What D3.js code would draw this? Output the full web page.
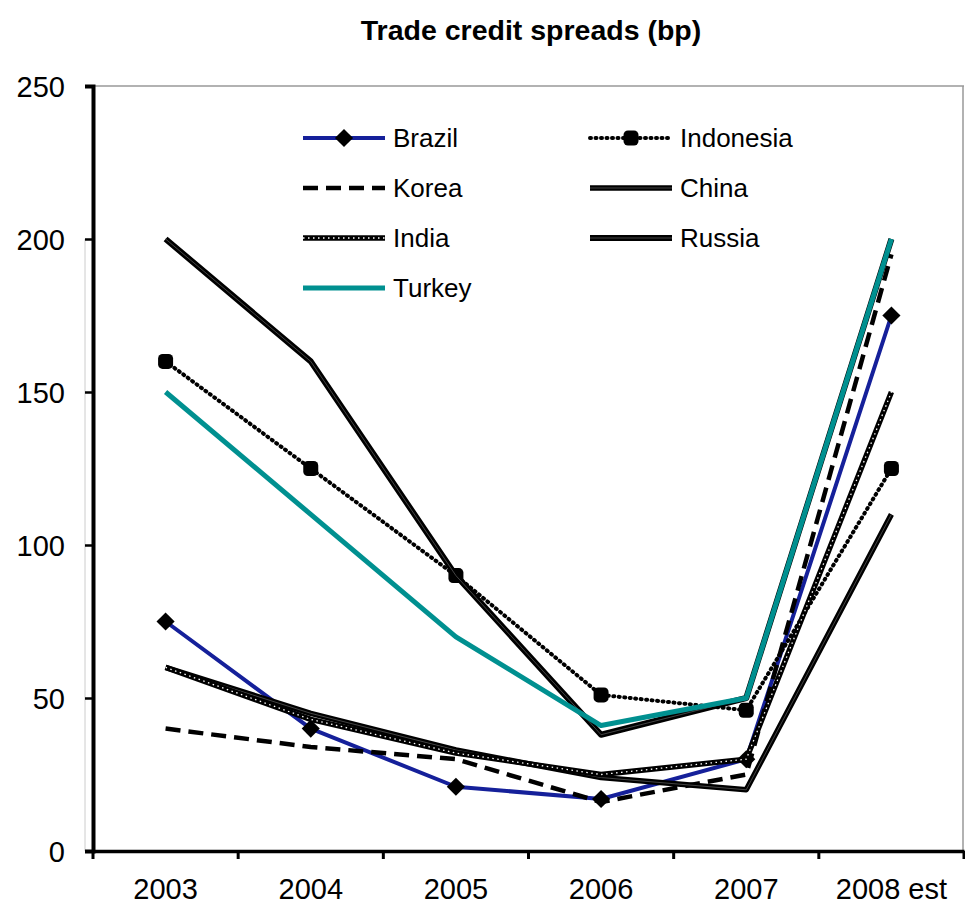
<!DOCTYPE html>
<html><head><meta charset="utf-8">
<script src="https://cdn.jsdelivr.net/npm/d3@7"></script>
<style>body{margin:0;background:#fff}svg{display:block}text{font-family:"Liberation Sans",Arial,sans-serif}</style>
</head><body>
<svg id="c" width="965" height="910"></svg>
<script>
const years = ["2003","2004","2005","2006","2007","2008 est"];
const brazil    = [75, 40, 21, 17, 30, 175];
const indonesia = [160, 125, 90, 51, 46, 125];
const korea     = [40, 34, 30, 16, 25, 195];
const china     = [60, 45, 33, 24, 20, 110];
const india     = [60, 43, 32, 25, 30, 150];
const russia    = [200, 160, 90, 38, 50, 200];
const turkey    = [150, 110, 70, 41, 50, 200];
const yTicks = [0, 50, 100, 150, 200, 250];
const seriesNames = ["Brazil","Indonesia","Korea","China","India","Russia","Turkey"];

const series = [
  {name:"Brazil", values:brazil},
  {name:"Indonesia", values:indonesia},
  {name:"Korea", values:korea},
  {name:"China", values:china},
  {name:"India", values:india},
  {name:"Russia", values:russia},
  {name:"Turkey", values:turkey}
];

const svg = d3.select("#c");
const L = 93, R = 964, T = 86, B = 851;
const x = d3.scaleBand().domain(years).range([L, R]).padding(0);
const y = d3.scaleLinear().domain([0, 250]).range([B, T]);
const cx = d => x(d) + x.bandwidth()/2;

// plot frame
svg.append("line").attr("x1",L).attr("x2",R).attr("y1",T).attr("y2",T).attr("stroke","#999").attr("stroke-width",1.5);
svg.append("line").attr("x1",R-1).attr("x2",R-1).attr("y1",T).attr("y2",B).attr("stroke","#999").attr("stroke-width",1.5);
svg.append("line").attr("x1",85).attr("x2",85).attr("y1",y(200)).attr("y2",B).attr("stroke","#ccc").attr("stroke-width",1);

// title
svg.append("text").attr("x",531).attr("y",40).attr("text-anchor","middle")
  .attr("font-size",28.5).attr("font-weight","bold").text("Trade credit spreads (bp)");

// axes
const yAxis = d3.axisLeft(y).tickValues(yTicks).tickSize(8).tickPadding(20);
const gy = svg.append("g").attr("transform",`translate(${L},0)`).call(yAxis);
gy.select(".domain").attr("stroke","#000").attr("stroke-width",4);
gy.selectAll(".tick line").attr("stroke","#000").attr("stroke-width",2.5);
gy.selectAll(".tick text").attr("font-size",29).attr("fill","#000").attr("font-family","Liberation Sans, Arial, sans-serif").attr("dy","0.35em");

const xAxis = d3.axisBottom(x).tickSize(0).tickPadding(27);
const gx = svg.append("g").attr("transform",`translate(0,${B})`).call(xAxis);
gx.select(".domain").attr("stroke","#000").attr("stroke-width",3.5);
gx.selectAll(".tick text").attr("font-size",29).attr("fill","#000").attr("font-family","Liberation Sans, Arial, sans-serif");
// band boundary ticks
const bounds = years.map(d => x(d)).concat([R]);
svg.append("g").selectAll("line").data(bounds).join("line")
  .attr("x1",d=>d).attr("x2",d=>d).attr("y1",B).attr("y2",B+8)
  .attr("stroke","#000").attr("stroke-width",3);

const line = d3.line().x((d,i)=>cx(years[i])).y(d=>y(d));

function drawStyle(g, name, path){
  const p = (attrs) => { const e = g.append("path").attr("d", path).attr("fill","none").attr("stroke-linejoin","round"); for (const k in attrs) e.attr(k, attrs[k]); return e; };
  if (name==="Brazil") { p({stroke:"#15209a","stroke-width":4}); }
  else if (name==="Indonesia") { p({stroke:"#000","stroke-width":4,"stroke-dasharray":"1,4.5","stroke-linecap":"round"}); }
  else if (name==="Korea") { p({stroke:"#000","stroke-width":4.5,"stroke-dasharray":"15,8"}); }
  else if (name==="China") { p({stroke:"#000","stroke-width":5.5}); p({stroke:"#555","stroke-width":0.8}); }
  else if (name==="India") { p({stroke:"#000","stroke-width":5.5}); p({stroke:"#fff","stroke-width":1.3,"stroke-dasharray":"1.5,3.5"}); }
  else if (name==="Russia") { p({stroke:"#000","stroke-width":6}); p({stroke:"#555","stroke-width":0.8}); }
  else if (name==="Turkey") { p({stroke:"#009090","stroke-width":5}); }
}
function drawMarker(g, name, mx, my){
  if (name==="Brazil") {
    g.append("path").attr("d", d3.symbol(d3.symbolDiamond2, 210)()).attr("transform",`translate(${mx},${my})`)
      .attr("fill","#000");
  } else if (name==="Indonesia") {
    g.append("rect").attr("x",mx-7.5).attr("y",my-7.5).attr("width",15).attr("height",15).attr("rx",4.5).attr("fill","#000");
  }
}

const gLines = svg.append("g");
series.forEach(s => {
  const g = gLines.append("g");
  drawStyle(g, s.name, line(s.values));
  s.values.forEach((v,i) => drawMarker(g, s.name, cx(years[i]), y(v)));
});

// legend
const legPos = {
  Brazil:[303,138], Indonesia:[590,138], Korea:[303,188], China:[590,188],
  India:[303,238], Russia:[590,238], Turkey:[303,288]
};
const gl = svg.append("g");
seriesNames.forEach(n => {
  const [lx, ly] = legPos[n];
  const g = gl.append("g");
  drawStyle(g, n, `M${lx},${ly}L${lx+82},${ly}`);
  drawMarker(g, n, lx+41, ly);
  g.append("text").attr("x",lx+90).attr("y",ly).attr("dy","0.35em").attr("font-size",26).text(n);
});
</script>
</body></html>
